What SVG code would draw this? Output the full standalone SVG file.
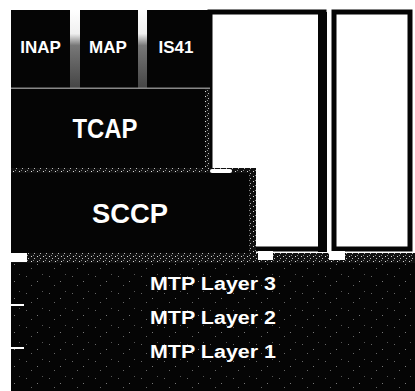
<svg xmlns="http://www.w3.org/2000/svg" width="415" height="391" viewBox="0 0 415 391">
  <defs>
    <pattern id="speck" width="6" height="5" patternUnits="userSpaceOnUse">
      <rect width="6" height="5" fill="#111"/>
      <rect x="1" y="1" width="1" height="1" fill="#ddd"/>
      <rect x="4" y="3" width="1" height="1" fill="#bbb"/>
      <rect x="3" y="0" width="1" height="1" fill="#888"/>
    </pattern>
    <pattern id="noise" width="23" height="17" patternUnits="userSpaceOnUse">
      <rect width="23" height="17" fill="#050505"/>
      <rect x="3" y="4" width="1" height="1" fill="#666"/>
      <rect x="14" y="9" width="1" height="1" fill="#777"/>
      <rect x="19" y="2" width="1" height="1" fill="#555"/>
      <rect x="8" y="13" width="1" height="1" fill="#666"/>
    </pattern>
    <linearGradient id="gap" x1="0" y1="0" x2="0" y2="1">
      <stop offset="0" stop-color="#ffffff"/>
      <stop offset="0.3" stop-color="#f0f0f0"/>
      <stop offset="0.45" stop-color="#777"/>
      <stop offset="1" stop-color="#444"/>
    </linearGradient>
  </defs>
  <style>
    .blk { fill: #050505; }
    .lbl { fill: #ffffff; font-family: "Liberation Sans", Arial, sans-serif; font-weight: bold; text-anchor: middle; }
    .s { font-size: 17px; }
    .m { font-size: 27px; }
    .mtp { font-size: 18px; }
    .panel { fill: #ffffff; stroke: #050505; }
  </style>
  <rect width="415" height="391" fill="#ffffff"/>

  <!-- right-hand empty panels -->
  <g id="panel1">
    <rect class="panel" x="210" y="12" width="114" height="237" stroke-width="5"/>
    <rect x="318" y="12" width="9" height="240" fill="#050505"/>
  </g>
  <g id="panel2">
    <rect class="panel" x="334" y="12" width="76" height="237" stroke-width="5"/>
  </g>

  <!-- top row -->
  <rect x="70" y="10" width="10" height="79" fill="url(#gap)"/>
  <rect x="138" y="10" width="9" height="79" fill="url(#gap)"/>
  <g id="inap">
    <rect class="blk" x="11" y="10" width="59" height="78"/>
    <text class="lbl s" x="40.5" y="53">INAP</text>
  </g>
  <g id="map">
    <rect class="blk" x="80" y="10" width="58" height="78"/>
    <text class="lbl s" x="108" y="53">MAP</text>
  </g>
  <g id="is41">
    <rect class="blk" x="147" y="10" width="63" height="78"/>
    <text class="lbl s" x="176" y="53">IS41</text>
  </g>
  <rect x="11" y="87.5" width="199" height="1.5" fill="#888"/>

  <g id="tcap">
    <rect class="blk" x="11" y="89" width="199" height="79"/>
    <rect x="205" y="89" width="5" height="79" fill="url(#speck)"/>
    <text class="lbl m" x="105" y="138" textLength="65" lengthAdjust="spacingAndGlyphs">TCAP</text>
  </g>
  <rect x="11" y="168" width="245" height="5" fill="url(#speck)"/>
  <rect x="210" y="169" width="22" height="4" rx="2" fill="#ffffff"/>

  <g id="sccp">
    <rect class="blk" x="11" y="173" width="242" height="80"/>
    <rect x="249" y="170" width="7" height="83" fill="url(#speck)"/>
    <text class="lbl m" x="130" y="223" textLength="76" lengthAdjust="spacingAndGlyphs">SCCP</text>
  </g>

  <!-- band between SCCP and MTP -->
  <rect x="11" y="253" width="404" height="10" fill="url(#speck)"/>
  <rect x="0" y="253" width="27" height="9" fill="#ffffff"/>
  <rect x="258" y="251" width="15" height="9" fill="#ffffff"/>
  <rect x="329" y="251" width="16" height="9" fill="#ffffff"/>

  <g id="mtp">
    <rect x="11" y="263" width="404" height="128" fill="url(#noise)"/>
    <rect x="11" y="304" width="13" height="2" fill="#ffffff"/>
    <rect x="11" y="347" width="13" height="2" fill="#ffffff"/>
    <text class="lbl mtp" x="213" y="290" textLength="126" lengthAdjust="spacingAndGlyphs">MTP Layer 3</text>
    <text class="lbl mtp" x="213" y="324" textLength="126" lengthAdjust="spacingAndGlyphs">MTP Layer 2</text>
    <text class="lbl mtp" x="213" y="358" textLength="126" lengthAdjust="spacingAndGlyphs">MTP Layer 1</text>
  </g>
</svg>
